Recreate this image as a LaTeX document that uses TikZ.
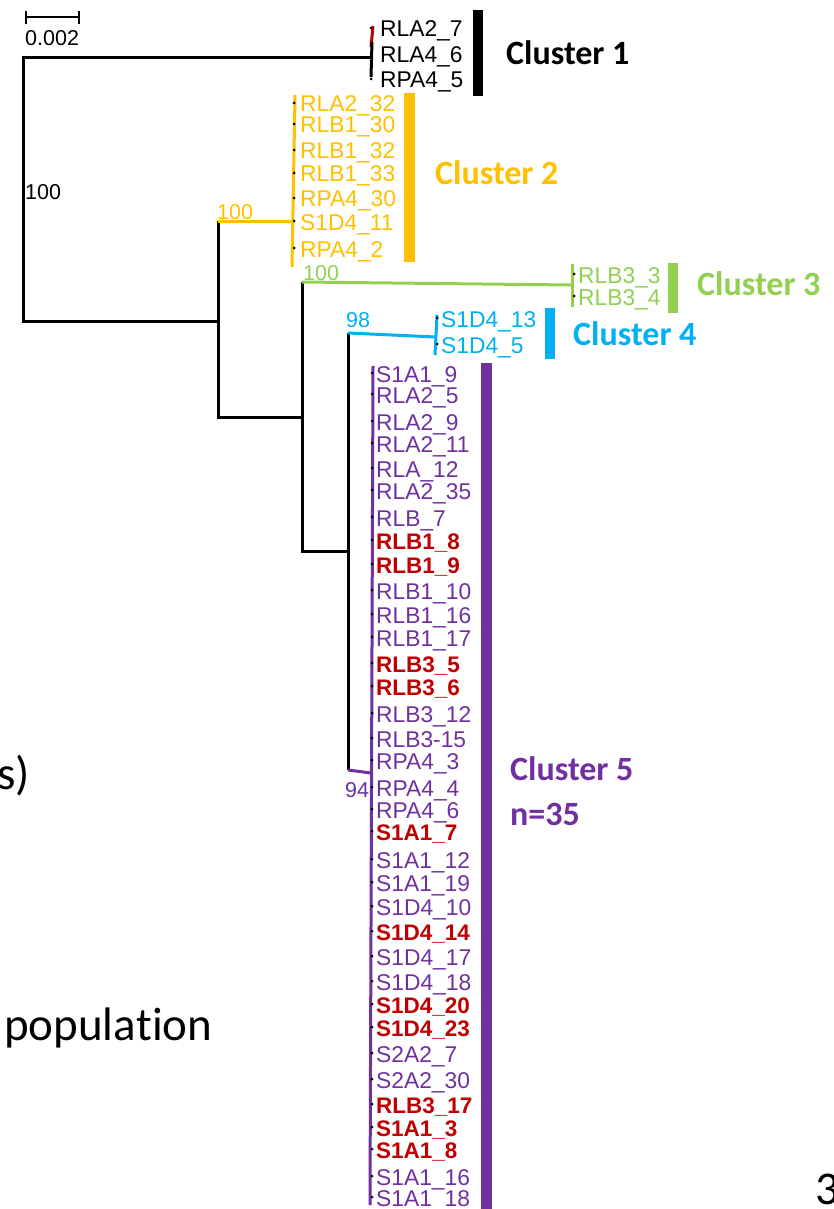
\documentclass[tikz,border=0pt]{standalone}
\usepackage{fontspec}
\setmainfont{Liberation Sans}
\newfontfamily\calib[Ligatures={NoCommon}]{Carlito}
\definecolor{corange}{HTML}{FFC000}
\definecolor{cgreen}{HTML}{92D050}
\definecolor{cblue}{HTML}{00B0F0}
\definecolor{cpurple}{HTML}{7030A0}
\definecolor{cred}{HTML}{C00000}
\begin{document}
\begin{tikzpicture}[x=1pt,y=-1pt,
  leaf/.style={anchor=base west, inner sep=0pt, font=\fontsize{22.8}{27}\selectfont},
  leafbold/.style={leaf, font=\bfseries\fontsize{22.5}{27}\selectfont},
  boot/.style={anchor=base west, inner sep=0pt, font=\fontsize{21.5}{26}\selectfont},
  clab/.style={anchor=base west, inner sep=0pt, font=\calib\bfseries\fontsize{34}{40}\selectfont},
  bigtxt/.style={anchor=base west, inner sep=0pt, font=\calib\fontsize{47}{56}\selectfont},
  branch/.style={line width=3pt},
  tipdot/.style={circle, fill=black, inner sep=0pt, minimum size=3pt}]
\useasboundingbox (0,0) rectangle (834,1209);
\fill[white] (0,0) rectangle (834,1209);

% scale bar
\coordinate (sb1) at (26,17); \coordinate (sb2) at (79,17);
\draw[line width=2.5pt] (sb1) -- (sb2);
\draw[line width=2.5pt] (26,11) -- (26,24) (79,11) -- (79,24);
\node[boot] (sblab) at (25,46) {0.002};

% internal nodes
\coordinate (rt) at (23,58);
\coordinate (rb) at (23,321);
\coordinate (c1) at (372,58);
\coordinate (n2b) at (218,321);
\coordinate (n2t) at (218,221);
\coordinate (n2d) at (218,417);
\coordinate (c2) at (294,221);
\coordinate (n3a) at (302,417);
\coordinate (n3t) at (302,282);
\coordinate (n3d) at (302,551);
\coordinate (c3) at (572,285);
\coordinate (n4a) at (348,551);
\coordinate (n4t) at (348,333);
\coordinate (n4d) at (348,770);
\coordinate (c4) at (436,337);
\coordinate (c5) at (371,773);

\draw[branch] (c1) -- (rt) -- (rb) -- (n2b);
\draw[branch] (n2t) -- (n2d) -- (n3a);
\draw[branch,corange] (n2t) -- (c2);
\draw[branch] (n3t) -- (n3d) -- (n4a);
\draw[branch,cgreen] (n3t) -- (c3);
\draw[branch] (n4t) -- (n4d);
\draw[branch,cblue] (n4t) -- (c4);
\draw[branch,cpurple] (n4d) -- (c5);

% bootstrap labels
\node[boot] (b1) at (25,200) {100};
\node[boot,text=corange] (b2) at (217,219) {100};
\node[boot,text=cgreen] (b3) at (303,280) {100};
\node[boot,text=cblue] (b4) at (346,327) {98};
\node[boot,text=cpurple] (b5) at (345,797) {94};

% cluster 1
\draw[branch,cred] (373,26) -- (371,47);
\draw[branch] (372,42) -- (371,77);
\foreach \yb/\t in {37/RLA2\_7,63/RLA4\_6,88/RPA4\_5}{
  \node[leaf] (l1-\yb) at (380,\yb) {\t};
  \node[tipdot] at (371,\yb-9) {};
}
\fill (473,10) rectangle (483,96);
\node[clab] (cl1) at (506,65) {Cluster 1};

% cluster 2
\draw[branch,corange] (295,95) -- (292,267);
\foreach \yb/\t in {112/RLA2\_32,133/RLB1\_30,159/RLB1\_32,182/RLB1\_33,207/RPA4\_30,230/S1D4\_11,257/RPA4\_2}{
  \node[leaf,text=corange] (l2-\yb) at (300,\yb) {\t};
  \node[tipdot] at (294,\yb-9) {};
}
\fill[corange] (404,93) rectangle (415,262);
\node[clab,text=corange] (cl2) at (435,185) {Cluster 2};

% cluster 3
\draw[branch,cgreen] (572,264) -- (572,307);
\foreach \yb/\t in {283/RLB3\_3,305/RLB3\_4}{
  \node[leaf,text=cgreen] (l3-\yb) at (578,\yb) {\t};
  \node[tipdot] at (574,\yb-9) {};
}
\fill[cgreen] (668,263) rectangle (678,313);
\node[clab,text=cgreen] (cl3) at (697,295) {Cluster 3};

% cluster 4
\draw[branch,cblue] (437,315) -- (435,355);
\foreach \yb/\t in {327/S1D4\_13,353/S1D4\_5}{
  \node[leaf,text=cblue] (l4-\yb) at (441,\yb) {\t};
  \node[tipdot] at (437,\yb-9) {};
}
\fill[cblue] (545,308) rectangle (555,359);
\node[clab,text=cblue] (cl4) at (573,345) {Cluster 4};

% cluster 5
\draw[branch,cpurple] (373,366) -- (370,1205);
\foreach \yb/\t in {382/S1A1\_9,403/RLA2\_5,430/RLA2\_9,452/RLA2\_11,477/RLA\_12,499/RLA2\_35,526/RLB\_7,599/RLB1\_10,623/RLB1\_16,646/RLB1\_17,722/RLB3\_12,747/RLB3-15,769/RPA4\_3,796/RPA4\_4,818/RPA4\_6,868/S1A1\_12,891/S1A1\_19,915/S1D4\_10,965/S1D4\_17,990/S1D4\_18,1062/S2A2\_7,1088/S2A2\_30,1185/S1A1\_16,1206/S1A1\_18}{
  \node[leaf,text=cpurple] (l5-\yb) at (376,\yb) {\t};
  \node[tipdot] at (372,\yb-9) {};
}
\foreach \yb/\t in {549/RLB1\_8,573/RLB1\_9,672/RLB3\_5,695/RLB3\_6,840/S1A1\_7,940/S1D4\_14,1013/S1D4\_20,1036/S1D4\_23,1113/RLB3\_17,1136/S1A1\_3,1158/S1A1\_8}{
  \node[leafbold,text=cred] (l5-\yb) at (376,\yb) {\t};
  \node[tipdot] at (372,\yb-9) {};
}
\fill[cpurple] (481,363) rectangle (492,1212);
\node[clab,text=cpurple] (cl5) at (510,780) {Cluster 5};
\node[clab,text=cpurple] (cl5n) at (510,825) {n=35};

% fragments of surrounding slide text
\node[bigtxt] (t1) at (-3,789) {s)};
\node[bigtxt] (t2) at (4,1040) {popula\kern0pt tion};
\node[bigtxt] (t3) at (815,1204) {3};
\end{tikzpicture}
\end{document}
